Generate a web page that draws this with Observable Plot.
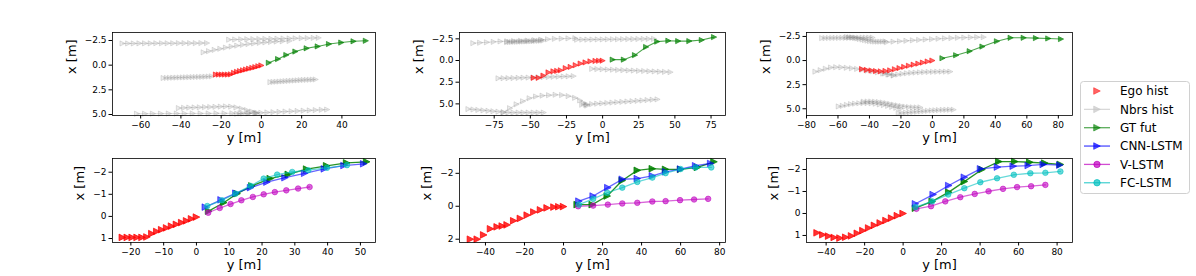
<!DOCTYPE html>
<html><head><meta charset="utf-8">
<script src="https://cdn.jsdelivr.net/npm/d3@7"></script>
<script src="https://cdn.jsdelivr.net/npm/@observablehq/plot@0.6"></script>
<style>
body{margin:0;background:#fff;}
#fig{position:relative;width:1196px;height:276px;font-family:"DejaVu Sans",sans-serif;overflow:hidden;}
</style></head><body><div id="fig"></div>
<script>
// ---------- data (h = "y [m]" horizontal, v = "x [m]" vertical) ----------
// Scenario 1
const ego1H = [-22.6,-21.1,-19.6,-18.1,-16.6,-15.1,-13.6,-12.1,-10.6,-9.1,-7.6,-6.1,-4.5,-3.0,-1.5,0.0];
const ego1V = [0.95,0.95,0.95,0.95,0.95,0.93,0.78,0.68,0.6,0.52,0.44,0.36,0.28,0.2,0.11,0.03];
const gt1H = [3.7,8.3,12.4,16.9,22.5,28.0,33.6,39.7,45.8,51.9];
const gt1V = [-0.24,-0.62,-1.03,-1.38,-1.71,-1.90,-2.14,-2.29,-2.42,-2.47];
const cnn1H = [2.7,7.5,12.0,16.5,21.5,27.0,33.0,39.0,45.0,51.0];
const cnn1V = [-0.42,-0.75,-1.05,-1.30,-1.55,-1.75,-1.95,-2.15,-2.30,-2.38];
const vl1H = [3.6,7.1,10.4,13.7,17.2,20.5,23.9,27.4,31.0,34.5];
const vl1V = [-0.17,-0.38,-0.56,-0.73,-0.88,-1.00,-1.10,-1.18,-1.26,-1.33];
const fc1H = [3.3,7.8,11.9,16.5,20.5,24.6,29.2,34.1,39.8,45.9];
const fc1V = [-0.47,-0.73,-1.03,-1.38,-1.71,-1.89,-2.01,-2.09,-2.20,-2.32];
const nbrs1H = [
  [-69,-66.2,-63.4,-60.6,-57.8,-55,-52.2,-49.4,-46.6,-43.8,-41,-38.2,-35.4,-32.6,-29.8,-27],
  [-16,-13,-10,-7,-4,-1,2,5,8,11,14,17,20,23,26,28.5],
  [-28.7,-26,-23.2,-20.4,-17.6,-14.8,-12,-9.2,-6.4,-3.6,-0.8,2,4.8,7.6,10.6,14],
  [-48.6,-47,-45.4,-43.8,-42.2,-40.6,-39,-37.4,-35.8,-34.2,-32.6,-31,-29.4,-27.8,-26.2,-24.6],
  [4.5,6,7.5,9,10.5,12,13.5,15,16.5,18,19.5,21,22.5,24,25.5,27],
  [-61.8,-57.8,-53.9,-49.9,-46,-42,-38.1,-34.1,-30.2,-26.2,-22.3,-18.3,-14.4,-10.4,-6.5,-2.5],
  [-41,-38.4,-35.8,-33.2,-30.6,-28,-25.4,-22.8,-20.2,-17.6,-15,-12.4,-9.8,-7.2,-4.6,-2],
  [-12,-9,-6,-3,0,3,6,9,12,15,18,21,24,27,30,32.7]
];
const nbrs1V = [
  [-2.2,-2.2,-2.2,-2.21,-2.21,-2.21,-2.22,-2.22,-2.22,-2.22,-2.23,-2.23,-2.23,-2.23,-2.24,-2.24],
  [-2.58,-2.6,-2.62,-2.63,-2.64,-2.65,-2.66,-2.67,-2.68,-2.7,-2.71,-2.72,-2.73,-2.74,-2.76,-2.77],
  [-1.3,-1.42,-1.55,-1.66,-1.78,-1.88,-1.98,-2.06,-2.14,-2.2,-2.26,-2.31,-2.35,-2.39,-2.42,-2.45],
  [1.3,1.29,1.28,1.27,1.26,1.25,1.24,1.23,1.22,1.21,1.2,1.19,1.18,1.17,1.15,1.13],
  [1.72,1.7,1.68,1.66,1.64,1.62,1.6,1.58,1.56,1.54,1.52,1.5,1.49,1.48,1.46,1.45],
  [4.92,4.92,4.91,4.91,4.9,4.9,4.9,4.89,4.89,4.89,4.88,4.88,4.88,4.88,4.87,4.87],
  [4.35,4.32,4.3,4.28,4.27,4.25,4.24,4.22,4.2,4.18,4.2,4.28,4.4,4.55,4.7,4.82],
  [4.92,4.9,4.87,4.84,4.82,4.79,4.76,4.73,4.7,4.67,4.64,4.61,4.58,4.55,4.52,4.5]
];
// Scenario 2
const ego2H = [-47.7,-44.2,-40.9,-37.4,-34.0,-31.4,-28.9,-25.5,-22.1,-18.6,-15.2,-11.8,-8.4,-4.9,-2.4,0.0];
const ego2V = [2.0,2.0,1.74,1.37,1.25,1.2,1.13,0.88,0.74,0.54,0.35,0.22,0.1,0.05,0.03,0.02];
const gt2H = [7.0,14.7,22.4,30.1,37.8,45.5,52.3,60.0,68.6,77.1];
const gt2V = [-0.1,-0.1,-0.62,-1.56,-2.18,-2.28,-2.24,-2.24,-2.36,-2.7];
const cnn2H = [7.9,15.2,22.7,30.1,37.8,45.5,52.3,60.0,67.7,75.4];
const cnn2V = [-0.31,-0.62,-1.13,-1.64,-1.68,-1.85,-2.09,-2.26,-2.46,-2.6];
const vl2H = [7.5,15.2,22.7,30.1,37.8,45.5,52.3,59.7,66.9,74.1];
const vl2V = [0.0,-0.04,-0.1,-0.17,-0.21,-0.29,-0.31,-0.37,-0.41,-0.45];
const fc2H = [7.9,15.2,22.4,30.1,37.8,45.5,52.3,60.0,67.7,75.7];
const fc2V = [-0.1,-0.45,-0.82,-1.13,-1.48,-1.74,-2.01,-2.26,-2.36,-2.36];
const nbrs2H = [
  [-89.4,-84.7,-80,-75.3,-70.6,-65.9,-61.2,-56.5,-51.8,-47.1,-42.4,-37.7,-33,-28.3,-23.6,-18.8],
  [-66,-64.3,-62.7,-61,-59.3,-57.7,-56,-54.3,-52.7,-51,-49.3,-47.7,-46,-44.3,-42.7,-41],
  [-17.6,-14,-10.5,-7,-3.4,0.1,3.6,7.2,10.7,14.2,17.8,21.3,24.8,28.4,31.9,35.6],
  [-72,-68.5,-65.1,-61.6,-58.1,-54.7,-51.2,-47.7,-44.3,-40.8,-37.3,-33.9,-30.4,-26.9,-23.5,-20],
  [-7.2,-3.6,0,3.6,7.2,10.8,14.4,18,21.6,25.2,28.8,32.4,36,39.6,43.2,47],
  [-92.8,-89.3,-85.9,-82.4,-78.9,-75.5,-72,-68.5,-65.1,-61.6,-58.1,-54.7,-51.2,-47.7,-44.3,-40.7],
  [-68.5,-64,-59.5,-55,-50.5,-46,-41.5,-37,-32.5,-28,-23.5,-19,-15.5,-13,-11.5,-10.6],
  [-14.1,-10.6,-7.2,-3.7,-0.2,3.3,6.8,10.2,13.7,17.2,20.7,24.2,27.6,31.1,34.6,38]
];
const nbrs2V = [
  [-2.0,-2.05,-2.1,-2.15,-2.2,-2.22,-2.25,-2.28,-2.3,-2.35,-2.4,-2.45,-2.5,-2.52,-2.55,-2.57],
  [-2.12,-2.13,-2.14,-2.15,-2.16,-2.17,-2.18,-2.19,-2.2,-2.21,-2.22,-2.24,-2.25,-2.27,-2.28,-2.3],
  [-2.4,-2.41,-2.41,-2.42,-2.43,-2.43,-2.44,-2.45,-2.45,-2.46,-2.47,-2.47,-2.48,-2.49,-2.49,-2.5],
  [2.05,2.04,2.03,2.02,2.0,1.98,1.97,1.95,1.93,1.92,1.9,1.88,1.86,1.84,1.82,1.8],
  [0.96,0.99,1.01,1.04,1.06,1.09,1.11,1.14,1.16,1.19,1.21,1.24,1.26,1.29,1.31,1.34],
  [5.6,5.65,5.7,5.75,5.8,5.85,5.9,5.95,6.0,6.0,6.0,6.0,6.0,6.0,6.0,6.0],
  [6.0,5.5,5.05,4.7,4.35,4.15,4.05,4.0,3.95,3.98,4.1,4.3,4.6,4.9,5.1,5.2],
  [5.1,5.06,5.02,4.98,4.94,4.9,4.85,4.81,4.77,4.73,4.69,4.65,4.61,4.56,4.52,4.48]
];
// Scenario 3
const ego3H = [-44.7,-41.7,-38.7,-35.8,-32.8,-29.8,-26.8,-23.8,-20.9,-17.9,-14.9,-11.9,-8.9,-6.0,-3.0,0.0];
const ego3V = [0.88,0.97,1.03,1.09,1.12,1.08,1.02,0.9,0.78,0.66,0.54,0.43,0.32,0.21,0.1,0.0];
const gt3H = [6.4,15.1,23.7,31.8,41.0,49.7,58.0,65.8,73.6,81.7];
const gt3V = [-0.24,-0.55,-0.97,-1.45,-2.0,-2.36,-2.36,-2.33,-2.29,-2.23];
const cnn3H = [6.4,15.6,23.7,31.8,40.2,49.0,57.2,65.0,72.8,81.4];
const cnn3V = [-0.44,-0.86,-1.27,-1.65,-2.03,-2.11,-2.15,-2.18,-2.23,-2.2];
const vl3H = [6.9,14.5,21.9,29.7,37.2,44.4,51.9,59.2,66.5,73.9];
const vl3V = [-0.21,-0.33,-0.55,-0.74,-0.89,-1.01,-1.12,-1.2,-1.24,-1.3];
const fc3H = [6.4,15.1,23.4,31.8,40.1,48.8,57.5,66.1,73.9,81.7];
const fc3V = [-0.29,-0.55,-0.86,-1.15,-1.42,-1.6,-1.76,-1.83,-1.85,-1.91];
const nbrs3H = [
  [-70,-67.9,-65.7,-63.6,-61.5,-59.3,-57.2,-55.1,-52.9,-50.8,-48.7,-46.5,-44.4,-42.3,-40.1,-38],
  [-54.2,-52.6,-50.9,-49.3,-47.7,-46.1,-44.4,-42.8,-41.2,-39.6,-37.9,-36.3,-34.7,-33.1,-31.4,-29.8],
  [-28.8,-24.7,-20.6,-16.5,-12.4,-8.4,-4.3,-0.2,3.9,8,12.1,16.2,20.3,24.4,28.5,32.6],
  [-74.3,-71,-67.7,-64.4,-61.1,-57.8,-54.4,-51.1,-47.8,-44.5,-41.2,-37.9,-34.6,-31.2,-27.9,-24.6],
  [-30,-27.2,-24.5,-21.7,-19,-16.2,-13.4,-10.7,-7.9,-5.2,-2.4,0.4,3.1,5.9,8.6,11.4],
  [-59.5,-56.9,-54.3,-51.7,-49.1,-46.4,-43.8,-41.2,-38.6,-36,-33.4,-30.8,-28.1,-25.5,-22.9,-20.3],
  [-43.6,-41.2,-38.8,-36.4,-34,-31.6,-29.2,-26.8,-24.4,-22,-19.6,-17.2,-14.8,-12.4,-10,-7.6],
  [-21.4,-19.1,-16.7,-14.4,-12.1,-9.7,-7.4,-5.1,-2.8,-0.4,1.9,4.2,6.6,8.9,11.2,13.5]
];
const nbrs3V = [
  [-2.33,-2.33,-2.34,-2.34,-2.35,-2.35,-2.36,-2.36,-2.36,-2.37,-2.37,-2.37,-2.38,-2.38,-2.38,-2.38],
  [-2.43,-2.42,-2.4,-2.36,-2.3,-2.24,-2.18,-2.12,-2.06,-2.02,-1.99,-1.97,-1.96,-1.96,-1.97,-1.98],
  [-1.91,-1.96,-2.0,-2.05,-2.1,-2.14,-2.18,-2.22,-2.26,-2.3,-2.33,-2.36,-2.38,-2.4,-2.42,-2.43],
  [1.15,1.0,0.85,0.72,0.69,0.7,0.75,0.8,0.87,0.95,1.05,1.12,1.22,1.35,1.45,1.56],
  [1.35,1.45,1.5,1.45,1.38,1.32,1.28,1.25,1.22,1.2,1.18,1.17,1.16,1.15,1.15,1.15],
  [4.76,4.7,4.6,4.52,4.47,4.43,4.41,4.41,4.43,4.48,4.55,4.62,4.7,4.8,4.9,4.97],
  [4.27,4.25,4.25,4.27,4.3,4.35,4.42,4.5,4.58,4.65,4.72,4.78,4.82,4.85,4.86,4.86],
  [5.45,5.43,5.4,5.37,5.33,5.3,5.27,5.24,5.21,5.18,5.16,5.14,5.12,5.11,5.1,5.1]
];
// axis ticks
const topXTicks = [[-60,-40,-20,0,20,40],[-75,-50,-25,0,25,50,75],[-80,-60,-40,-20,0,20,40,60,80]];
const topYTicks = [-2.5,0,2.5,5];
const botXTicks = [[-20,-10,0,10,20,30,40,50],[-40,-20,0,20,40,60,80],[-40,-20,0,20,40,60,80]];
const botYTicks = [[-2,-1,0,1],[-2,0,2],[-2,-1,0,1]];
const legendNames = ["Ego hist","Nbrs hist","GT fut","CNN-LSTM","V-LSTM","FC-LSTM"];

// ---------- styles ----------
const C = {ego:"#ff0000", nbr:"#808080", gt:"#008000", cnn:"#0000ff", vl:"#bf00bf", fc:"#00bfbf"};
const triRight = {draw(ctx, size){ const r = Math.sqrt(size/Math.PI); ctx.moveTo(r,0); ctx.lineTo(-r,-r); ctx.lineTo(-r,r); ctx.closePath(); }};
const track = (H, V, id) => H.map((h,i) => ({h, v: V[i], id}));
const tracks = (HH, VV) => HH.flatMap((H,k) => track(H, VV[k], k));

const scen = [
  {ego:[ego1H,ego1V], gt:[gt1H,gt1V], cnn:[cnn1H,cnn1V], vl:[vl1H,vl1V], fc:[fc1H,fc1V], nb:[nbrs1H,nbrs1V]},
  {ego:[ego2H,ego2V], gt:[gt2H,gt2V], cnn:[cnn2H,cnn2V], vl:[vl2H,vl2V], fc:[fc2H,fc2V], nb:[nbrs2H,nbrs2V]},
  {ego:[ego3H,ego3V], gt:[gt3H,gt3V], cnn:[cnn3H,cnn3V], vl:[vl3H,vl3V], fc:[fc3H,fc3V], nb:[nbrs3H,nbrs3V]}
];
const cols = [[112,375],[459,725],[806,1072]];
const topDom = [{x:[-74,56.7], y:[-3.31,5.1]}, {x:[-99,85], y:[-3.23,6.34]}, {x:[-80,89], y:[-2.91,5.7]}];
const botDom = [{x:[-25.6,54.6], y:[-2.62,1.18]}, {x:[-53.3,83], y:[-2.9,2.2]}, {x:[-50.2,88], y:[-2.5,1.32]}];

const fig = document.getElementById("fig");

function panel({left, right, top, bottom, xd, yd, xt, yt, yf, marks, ylabOff}) {
  const ml = 60, mr = 14, mt = 8, mb = 42;
  const w = right - left, h = bottom - top;
  const el = Plot.plot({
    width: w + ml + mr, height: h + mt + mb,
    marginLeft: ml, marginRight: mr, marginTop: mt, marginBottom: mb,
    style: {fontFamily: "'DejaVu Sans', sans-serif", fontSize: "9px", color: "black", background: "transparent", overflow: "visible"},
    x: {domain: xd, ticks: xt, tickFormat: d3.format("d"), tickSize: 3.5, tickPadding: 2.5, label: null},
    y: {domain: yd, reverse: true, ticks: yt, tickFormat: yf, tickSize: 3.5, tickPadding: 2.5, label: null},
    marks: [
      ...marks,
      Plot.frame({stroke: "black", strokeWidth: 0.8}),
      Plot.text(["y [m]"], {frameAnchor: "bottom", dy: 26, fontSize: 13}),
      Plot.text(["x [m]"], {frameAnchor: "left", dx: -ylabOff, rotate: -90, fontSize: 13})
    ]
  });
  el.style.position = "absolute";
  el.style.left = (left - ml) + "px";
  el.style.top = (top - mt) + "px";
  fig.appendChild(el);
}

function seriesMarks(pair, color, symbol, r, opts = {}) {
  const d = track(pair[0], pair[1], 0);
  const out = [];
  if (!opts.noLine) out.push(Plot.line(d, {x: "h", y: "v", stroke: color, strokeWidth: opts.lw ?? 1.3, strokeOpacity: opts.lo ?? 0.7}));
  out.push(Plot.dot(d, {x: "h", y: "v", symbol, r, fill: color, fillOpacity: opts.fo ?? 0.6, stroke: color, strokeOpacity: opts.so ?? 0.6, strokeWidth: 0.9}));
  return out;
}

scen.forEach((s, i) => {
  const nb = tracks(s.nb[0], s.nb[1]);
  panel({
    left: cols[i][0], right: cols[i][1], top: 32, bottom: 115,
    xd: topDom[i].x, yd: topDom[i].y, xt: topXTicks[i], yt: topYTicks, yf: d3.format(".1f"), ylabOff: 41,
    marks: [
      Plot.line(nb, {x: "h", y: "v", z: "id", stroke: C.nbr, strokeOpacity: 0.25, strokeWidth: 1}),
      Plot.dot(nb, {x: "h", y: "v", symbol: triRight, r: 2.6, fill: C.nbr, fillOpacity: 0.15, stroke: C.nbr, strokeOpacity: 0.3, strokeWidth: 0.8}),
      ...seriesMarks(s.ego, C.ego, triRight, 2.6, {noLine: true, fo: 0.6, so: 0.6}),
      ...seriesMarks(s.gt, C.gt, triRight, 2.6, {lw: 1.1, lo: 0.7, fo: 0.65, so: 0.65})
    ]
  });
  panel({
    left: cols[i][0], right: cols[i][1], top: 158, bottom: 242,
    xd: botDom[i].x, yd: botDom[i].y, xt: botXTicks[i], yt: botYTicks[i], yf: d3.format("d"), ylabOff: 33,
    marks: [
      ...seriesMarks(s.ego, C.ego, triRight, 3.3, {noLine: true, fo: 0.8, so: 0.8}),
      ...seriesMarks(s.gt, C.gt, triRight, 3.3, {lw: 1.3, lo: 0.85, fo: 0.85, so: 0.85}),
      ...seriesMarks(s.cnn, C.cnn, triRight, 3.3, {lw: 1.3, lo: 0.6, fo: 0.6, so: 0.6}),
      ...seriesMarks(s.vl, C.vl, "circle", 2.8, {lw: 1.3, lo: 0.6, fo: 0.6, so: 0.6}),
      ...seriesMarks(s.fc, C.fc, "circle", 2.8, {lw: 1.3, lo: 0.6, fo: 0.6, so: 0.6})
    ]
  });
});

// ---------- legend ----------
const legendStyle = [
  {c: C.ego, line: false, sym: "tri", o: 0.6},
  {c: "#c8c8c8", line: true, sym: "tri", o: 0.7},
  {c: C.gt, line: true, sym: "tri", o: 0.65},
  {c: C.cnn, line: true, sym: "tri", o: 0.7},
  {c: C.vl, line: true, sym: "circle", o: 0.7},
  {c: C.fc, line: true, sym: "circle", o: 0.7}
];
const lg = d3.select(fig).append("svg")
  .attr("width", 1196).attr("height", 276)
  .style("position", "absolute").style("left", "0px").style("top", "0px")
  .style("font-family", "'DejaVu Sans', sans-serif");
lg.append("rect").attr("x", 1080.5).attr("y", 81.5).attr("width", 109).attr("height", 112).attr("rx", 3)
  .attr("fill", "white").attr("stroke", "#d0d0d0").attr("stroke-width", 1);
legendNames.forEach((name, i) => {
  const y = 91 + i * 18.35, st = legendStyle[i];
  const g = lg.append("g");
  if (st.line) g.append("line").attr("x1", 1084).attr("x2", 1110).attr("y1", y).attr("y2", y)
    .attr("stroke", st.c).attr("stroke-width", 1.3).attr("stroke-opacity", st.o);
  if (st.sym === "tri") g.append("path").attr("d", d3.symbol(triRight, Math.PI * 3.3 * 3.3)()).attr("transform", `translate(1097,${y})`)
    .attr("fill", st.c).attr("fill-opacity", st.o).attr("stroke", st.c).attr("stroke-opacity", st.o).attr("stroke-width", 0.8);
  else g.append("circle").attr("cx", 1097).attr("cy", y).attr("r", 3.2)
    .attr("fill", st.c).attr("fill-opacity", st.o).attr("stroke", st.c).attr("stroke-opacity", st.o);
  g.append("text").attr("x", 1120).attr("y", y).attr("dy", "0.35em").attr("font-size", 12).attr("fill", "black").text(name);
});
</script>
</body></html>
